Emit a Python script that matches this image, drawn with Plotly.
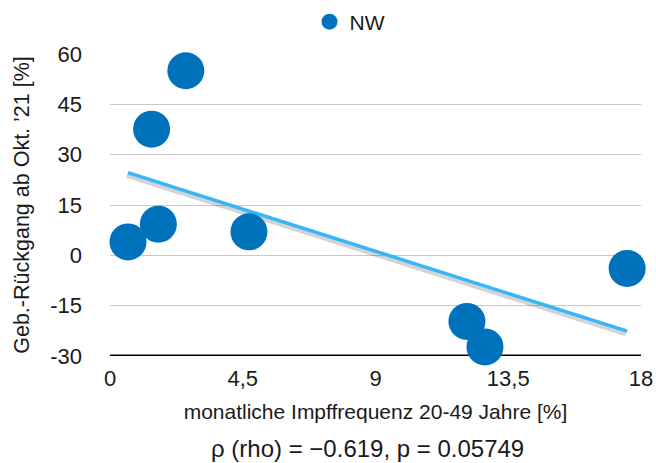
import numpy as np
import plotly.graph_objects as go

# Data
x_vals = [2.57, 1.41, 1.64, 0.61, 4.71, 12.1, 12.71, 17.53]
y_vals = [55.0, 37.6, 9.3, 4.0, 7.0, -19.7, -27.3, -3.9]
series_name = "NW"
x_tickvals = [0, 4.5, 9, 13.5, 18]
x_ticktext = ["0", "4,5", "9", "13,5", "18"]
y_tickvals = [-30, -15, 0, 15, 30, 45, 60]
y_ticktext = ["-30", "-15", "0", "15", "30", "45", "60"]
stat_text = "ρ (rho) = −0.619, p = 0.05749"

slope, intercept = np.polyfit(x_vals, y_vals, 1)
x_fit = np.array([min(x_vals), max(x_vals)])
y_fit = slope * x_fit + intercept

FONT = "Liberation Sans, Arial, sans-serif"

fig = go.Figure()
# shadow of trendline
fig.add_trace(go.Scatter(
    x=x_fit - 0.04, y=y_fit - 0.8, mode="lines",
    line=dict(color="rgba(0,0,0,0.17)", width=5),
    showlegend=False, hoverinfo="skip"))
fig.add_trace(go.Scatter(
    x=x_fit, y=y_fit, mode="lines",
    line=dict(color="#38B6F8", width=3.5),
    showlegend=False, hoverinfo="skip"))
fig.add_trace(go.Scatter(
    x=x_vals, y=y_vals, mode="markers", name=series_name,
    marker=dict(color="#0072BB", size=37, line=dict(width=0)),
    cliponaxis=False))

fig.update_layout(
    width=656, height=463,
    margin=dict(l=110, r=15, t=54, b=107, autoexpand=False),
    paper_bgcolor="white", plot_bgcolor="white",
    font=dict(family=FONT, color="#1a1a1a", size=22),
    showlegend=True,
    legend=dict(orientation="h", x=0.452, xanchor="center", y=1.106, yanchor="middle",
                font=dict(size=21, family=FONT), itemsizing="trace"),
    xaxis=dict(range=[0, 18], tickvals=x_tickvals, ticktext=x_ticktext,
               showgrid=False, zeroline=False, showline=False,
               ticks="", tickfont=dict(size=22), automargin=False,
               ticklabelstandoff=7,
               title=dict(text="monatliche Impffrequenz 20-49 Jahre [%]",
                          font=dict(size=21), standoff=14)),
    yaxis=dict(range=[-30, 60], tickvals=y_tickvals, ticktext=y_ticktext,
               showgrid=True, gridcolor="#C8C8C8", gridwidth=1.3,
               zeroline=False, showline=False, ticks="", automargin=False,
               tickfont=dict(size=22), ticklabelstandoff=27,
               title=dict(text="Geb.-Rückgang ab Okt. ’21 [%]",
                          font=dict(size=21.5), standoff=14)),
    shapes=[dict(type="line", xref="paper", yref="y", x0=0, x1=1, y0=-30, y1=-30,
                 line=dict(color="black", width=3), layer="below")],
    annotations=[dict(text=stat_text, xref="paper", yref="paper",
                      x=0.484, y=(356 - 448) / 302, xanchor="center", yanchor="middle",
                      showarrow=False, font=dict(size=24, family=FONT))],
)

fig.write_html("out.html", config={"displayModeBar": False},
               post_script="document.body.style.margin='0';")
